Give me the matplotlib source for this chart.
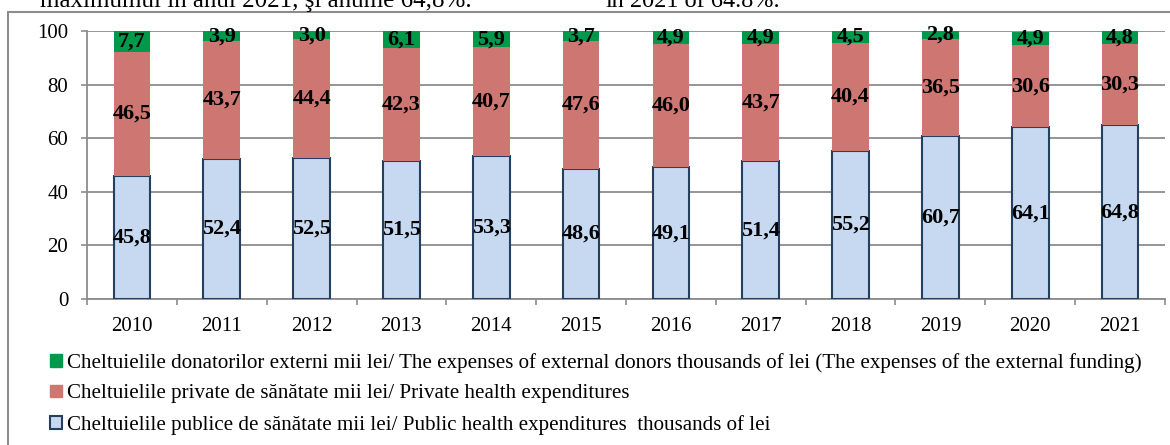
import matplotlib
matplotlib.use("Agg")
import matplotlib.pyplot as plt
from matplotlib.patches import Patch, Rectangle
import numpy as np

plt.rcParams["font.family"] = ["Liberation Serif", "DejaVu Serif"]

years = ["2010", "2011", "2012", "2013", "2014", "2015",
         "2016", "2017", "2018", "2019", "2020", "2021"]
public = [45.8, 52.4, 52.5, 51.5, 53.3, 48.6, 49.1, 51.4, 55.2, 60.7, 64.1, 64.8]
private = [46.5, 43.7, 44.4, 42.3, 40.7, 47.6, 46.0, 43.7, 40.4, 36.5, 30.6, 30.3]
donors = [7.7, 3.9, 3.0, 6.1, 5.9, 3.7, 4.9, 4.9, 4.5, 2.8, 4.9, 4.8]

label_donors = ("Cheltuielile donatorilor externi mii lei/ The expenses of external donors "
                "thousands of lei (The expenses of the external funding)")
label_private = "Cheltuielile private de sănătate mii lei/ Private health expenditures"
label_public = "Cheltuielile publice de sănătate mii lei/ Public health expenditures  thousands of lei"

C_PUBLIC = "#C6D9F1"
C_PUBLIC_EDGE = "#243F60"
C_PRIVATE = "#CD7672"
C_DONORS = "#00984A"
GRID = "#8C8C8C"

W, H = 1170, 445
fig = plt.figure(figsize=(W / 100, H / 100), dpi=100)
ax = fig.add_axes([87 / W, 1 - 299 / H, (1165 - 87) / W, (299 - 31) / H])

x = np.arange(len(years))
width = 0.41
pub = np.array(public)
priv = np.array(private)

b1 = ax.bar(x, pub, width, color=C_PUBLIC, edgecolor=C_PUBLIC_EDGE, linewidth=1.5, zorder=3)
b2 = ax.bar(x, priv, width, bottom=pub, color=C_PRIVATE, linewidth=0, zorder=3)
b3 = ax.bar(x, donors, width, bottom=pub + priv, color=C_DONORS, linewidth=0, zorder=3)


def fmt(vals):
    return [f"{v:.1f}".replace(".", ",") for v in vals]


for bars, vals in ((b1, public), (b2, private), (b3, donors)):
    ax.bar_label(bars, labels=fmt(vals), label_type="center",
                 fontsize=16, fontweight="bold", color="black", zorder=4)

ax.set_xlim(-0.5, len(years) - 0.5)
ax.set_ylim(0, 100)
ax.set_yticks(range(0, 101, 20))
ax.set_xticks(x)
ax.set_xticklabels(years)
ax.set_xticks(np.arange(-0.5, len(years)), minor=True)
ax.tick_params(axis="x", which="major", length=0, labelsize=15, pad=13)
ax.tick_params(axis="x", which="minor", length=4, width=1.2, color=GRID)
ax.tick_params(axis="y", length=4, width=1.2, color=GRID, labelsize=15, pad=9.5)
ax.yaxis.grid(True, color=GRID, linewidth=1.3, zorder=0)
ax.set_axisbelow(True)
for side in ("top", "right"):
    ax.spines[side].set_visible(False)
for side in ("left", "bottom"):
    ax.spines[side].set_color(GRID)
    ax.spines[side].set_linewidth(1.3)

handles = [
    Patch(facecolor=C_DONORS, edgecolor=C_DONORS),
    Patch(facecolor=C_PRIVATE, edgecolor=C_PRIVATE),
    Patch(facecolor=C_PUBLIC, edgecolor=C_PUBLIC_EDGE, linewidth=1.5),
]
fig.legend(handles, [label_donors, label_private, label_public],
           loc="upper left", bbox_to_anchor=(50 / W, 1 - 353 / H),
           fontsize=15.1, frameon=False, borderpad=0, borderaxespad=0,
           handlelength=0.55, handleheight=0.55, handletextpad=0.25,
           labelspacing=0.55)

# outer chart border (continues past the image edges)
fig.patches.append(Rectangle((8 / W, -0.1), 1.2, 1.1 - 12 / H, transform=fig.transFigure,
                             fill=False, edgecolor="#8C8C8C", linewidth=1.5))

# body text above the chart, cut at the top edge
fig.text(472 / W, 1 - 7 / H, "maximumul în anul 2021, şi anume 64,8%.",
         ha="right", va="baseline", fontsize=18)
fig.text(605 / W, 1 - 7 / H, "în 2021 of 64.8%.", ha="left", va="baseline", fontsize=17.5)

fig.savefig("out.png", dpi=100)
